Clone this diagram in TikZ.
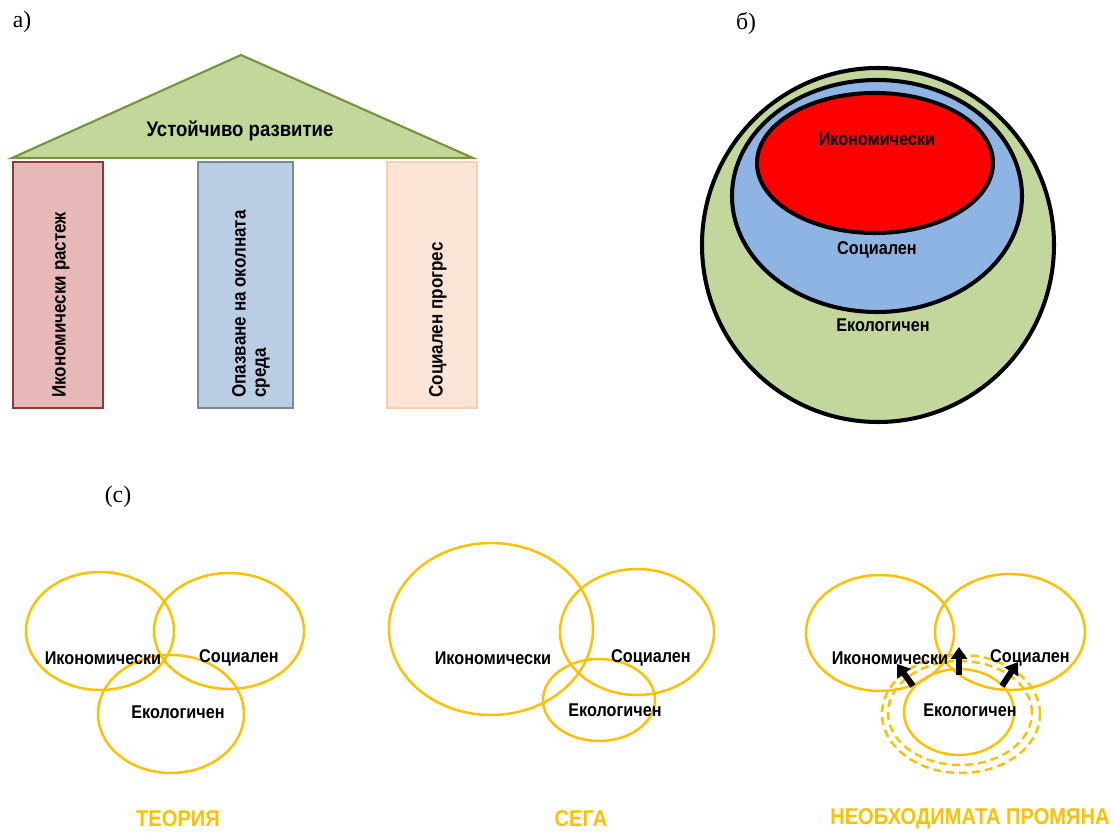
\documentclass[tikz,border=0pt]{standalone}
\usepackage{fontspec}
\setmainfont{Liberation Serif}
\setsansfont{Liberation Sans}
\newfontfamily\narrowsans[FakeStretch=0.88]{Liberation Sans}
\usetikzlibrary{positioning,arrows.meta,shapes.geometric}
\definecolor{roofgreen}{RGB}{196,215,155}
\definecolor{roofline}{RGB}{119,147,60}
\definecolor{growthred}{RGB}{230,185,184}
\definecolor{growthline}{RGB}{149,55,53}
\definecolor{envblue}{RGB}{185,205,229}
\definecolor{envline}{RGB}{125,138,150}
\definecolor{socpeach}{RGB}{252,228,214}
\definecolor{socline}{RGB}{250,205,175}
\definecolor{ecogreen}{RGB}{195,214,155}
\definecolor{socblue}{RGB}{141,180,226}
\definecolor{econred}{RGB}{255,0,0}
\definecolor{venngold}{RGB}{255,192,0}

\begin{document}
\begin{tikzpicture}[
  x=0.2mm, y=-0.2mm,
  tag/.style={font=\fontsize{13.5}{15}\selectfont, inner sep=0pt},
  pillar/.style={rectangle, line width=1.4pt, minimum width=18mm,
                 minimum height=49.2mm, inner sep=0pt},
  ptext/.style={font=\narrowsans\bfseries\fontsize{11}{11.5}\selectfont,
                rotate=90, anchor=west, align=left, inner sep=0pt},
  ring/.style 2 args={ellipse, inner sep=0pt, minimum width=#1*0.4mm,
                      minimum height=#2*0.4mm},
  nested/.style={draw=black, line width=2.3pt},
  venn/.style={draw=venngold, line width=1.4pt},
  lbl/.style={font=\narrowsans\bfseries\fontsize{10.5}{12}\selectfont, inner sep=0pt},
  caption/.style={font=\narrowsans\bfseries\fontsize{13}{15}\selectfont,
                  text=venngold, inner sep=0pt},
  push/.style={-{Triangle[length=2.4mm,width=3.2mm]}, line width=1.2mm, draw=black}
]
\useasboundingbox (0,0) rectangle (1115,833);

\node[tag] (taga) at (22,22) {а)};
\node[pillar, draw=growthline, fill=growthred] (p1) at (58,285) {};
\node[pillar, draw=envline, fill=envblue, minimum width=19mm] (p2) at (245.5,285) {};
\node[pillar, draw=socline, fill=socpeach] (p3) at (432,285) {};
\coordinate (apex) at (241,55);
\coordinate (eaveL) at (12,158);
\coordinate (eaveR) at (473,158);
\draw[draw=roofline, fill=roofgreen, line width=1.2pt] (eaveL) -- (apex) -- (eaveR) -- cycle;
\node[font=\narrowsans\bfseries\fontsize{12}{14}\selectfont, inner sep=0pt] (roof) at (240,131) {Устойчиво развитие};
\node[ptext] (t1) at (61,398) {Икономически растеж};
\node[ptext] (t2) at (251,398) {Опазване на околната\\среда};
\node[ptext] (t3) at (438,398) {Социален прогрес};

\node[tag] (tagb) at (746,24) {б)};
\node[ring={176}{177}, nested, fill=ecogreen] (eco) at (878,245) {};
\node[ring={145}{116}, nested, fill=socblue] (soc) at (877,196) {};
\node[ring={118}{70}, nested, fill=econred] (econ) at (875,163) {};
\node[lbl] (econt) at (877,139) {Икономически};
\node[lbl] (soct) at (877,250) {Социален};
\node[lbl] (ecot) at (883,325) {Екологичен};

\node[tag] (tagc) at (118,497) {(c)};

\node[ring={74}{59}, venn] (e1) at (100,631) {};
\node[ring={75}{58}, venn] (s1) at (229,631) {};
\node[ring={73}{59}, venn] (g1) at (171,714) {};
\node[lbl] (e1t) at (103,658) {Икономически};
\node[lbl] (s1t) at (239,658) {Социален};
\node[lbl] (g1t) at (178,712) {Екологичен};
\node[caption] (cap1) at (178,819) {ТЕОРИЯ};

\node[ring={102}{86}, venn] (e2) at (491,629) {};
\node[ring={77}{63}, venn] (s2) at (637,632) {};
\node[ring={56}{41}, venn] (g2) at (599,700) {};
\node[lbl] (e2t) at (493,658) {Икономически};
\node[lbl] (s2t) at (651,658) {Социален};
\node[lbl] (g2t) at (615,710) {Екологичен};
\node[caption] (cap2) at (581,819) {СЕГА};

\node[ring={74}{58}, venn] (e3) at (880,633) {};
\node[ring={75}{58}, venn] (s3) at (1010,632) {};
\node[ring={55}{43}, venn] (g3) at (959,712) {};
\node[ring={72}{52}, venn, dash pattern=on 1.6mm off 1mm] (g3a) at (960,713) {};
\node[ring={79}{59}, venn, dash pattern=on 1.6mm off 1mm] (g3b) at (961,714) {};
\node[lbl] (e3t) at (890,658) {Икономически};
\node[lbl] (s3t) at (1030,658) {Социален};
\node[lbl] (g3t) at (970,710) {Екологичен};
\coordinate (a1) at (913,686);
\coordinate (b1) at (897,664);
\coordinate (a2) at (959,675);
\coordinate (b2) at (959,647);
\coordinate (a3) at (1002,686);
\coordinate (b3) at (1018,662);
\draw[push] (a1) -- (b1);
\draw[push] (a2) -- (b2);
\draw[push] (a3) -- (b3);
\node[caption] (cap3) at (970,819) {НЕОБХОДИМАТА ПРОМЯНА};
\end{tikzpicture}
\end{document}
